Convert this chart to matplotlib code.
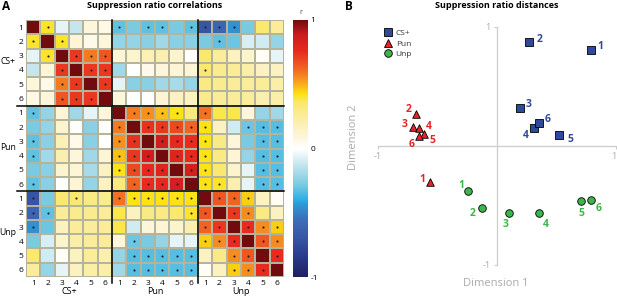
import numpy as np
import matplotlib
matplotlib.use("Agg")
import matplotlib.pyplot as plt
from matplotlib.colors import LinearSegmentedColormap
from matplotlib.lines import Line2D

plt.rcParams['font.family'] = ['Open Sans', 'DejaVu Sans']

# ---------------- data ----------------
groups = ["CS+", "Pun", "Unp"]
items = ["1", "2", "3", "4", "5", "6"]

# lower triangle of the correlation matrix (rows: CS+1..6, Pun1..6, Unp1..6)
corr_lower = [
    [1.0],
    [0.40, 1.0],
    [-0.05, 0.40, 1.0],
    [-0.12, 0.10, 0.72, 1.0],
    [0.08, 0.05, 0.58, 0.72, 1.0],
    [0.06, 0.08, 0.65, 0.72, 0.72, 1.0],
    [-0.32, -0.22, 0.10, -0.20, -0.05, 0.08, 1.0],
    [-0.28, -0.22, 0.12, 0.00, -0.25, 0.00, 0.58, 1.0],
    [-0.32, -0.25, 0.18, 0.05, -0.25, 0.00, 0.54, 0.74, 1.0],
    [-0.32, -0.20, 0.20, 0.08, -0.20, 0.10, 0.47, 0.72, 0.86, 1.0],
    [-0.28, -0.25, 0.12, 0.10, -0.18, 0.15, 0.42, 0.68, 0.76, 0.80, 1.0],
    [-0.32, -0.25, 0.00, 0.10, -0.22, 0.15, 0.32, 0.62, 0.75, 0.76, 0.85, 1.0],
    [-0.70, -0.28, 0.35, 0.35, 0.30, 0.28, 0.60, 0.42, 0.42, 0.42, 0.42, 0.42, 1.0],
    [-0.60, -0.32, 0.25, 0.28, 0.28, 0.25, 0.38, 0.15, 0.30, 0.30, 0.35, 0.40, 0.65, 1.0],
    [-0.45, -0.30, 0.15, 0.25, 0.25, 0.25, 0.38, -0.10, 0.08, 0.10, 0.12, 0.20, 0.62, 0.72, 1.0],
    [-0.28, -0.08, 0.12, 0.22, 0.25, 0.25, 0.08, -0.30, -0.28, -0.22, -0.05, -0.05, 0.45, 0.55, 0.75, 1.0],
    [0.35, -0.10, 0.02, 0.15, 0.25, 0.20, -0.22, -0.33, -0.33, -0.33, -0.33, -0.33, 0.15, 0.30, 0.55, 0.65, 1.0],
    [0.25, -0.22, -0.05, 0.15, 0.22, 0.22, -0.20, -0.33, -0.33, -0.33, -0.33, -0.33, 0.02, 0.15, 0.45, 0.55, 0.75, 1.0],
]

# significant pairs (row, col) in the lower triangle, 0-based indices
signif_pairs = [
    (1, 0), (2, 1), (3, 2), (4, 2), (5, 2), (4, 3), (5, 3), (5, 4),
    (6, 0), (8, 0), (9, 0), (11, 0),
    (7, 6), (8, 6), (9, 6), (10, 6),
    (8, 7), (9, 7), (10, 7), (11, 7),
    (9, 8), (10, 8), (11, 8), (10, 9), (11, 9), (11, 10),
    (12, 0), (13, 0), (14, 0), (13, 1), (12, 3),
    (12, 6), (12, 7), (12, 8), (12, 9), (12, 10), (12, 11),
    (13, 11), (15, 7),
    (16, 7), (16, 8), (16, 9), (16, 10), (16, 11),
    (17, 7), (17, 8), (17, 9), (17, 10), (17, 11),
    (13, 12), (14, 12), (15, 12), (14, 13), (15, 13), (15, 14),
    (16, 14), (17, 14), (16, 15), (17, 15), (17, 16),
]

# MDS coordinates
cs_x = [0.79, 0.27, 0.19, 0.31, 0.52, 0.35]
cs_y = [0.81, 0.87, 0.32, 0.15, 0.09, 0.19]
pun_x = [-0.56, -0.68, -0.71, -0.655, -0.615, -0.655]
pun_y = [-0.30, 0.27, 0.16, 0.15, 0.10, 0.08]
unp_x = [-0.24, -0.13, 0.10, 0.35, 0.71, 0.79]
unp_y = [-0.38, -0.52, -0.56, -0.56, -0.46, -0.45]

# label offsets in pixels (dx right, dy up)
cs_off = [(9, 3), (10, 3), (9, 3), (-8, -7), (12, -4), (9, 4)]
pun_off = [(-8, 2), (-8, 4), (-8, 2), (10, 2), (9, -6), (-7, -8)]
unp_off = [(-7, 6), (-9, -6), (-3, -12), (7, -12), (0, -13), (8, -9)]

# ---------------- build matrix ----------------
n = len(corr_lower)
M = np.zeros((n, n))
for i, row in enumerate(corr_lower):
    for j, v in enumerate(row):
        M[i, j] = v
        M[j, i] = v

cmap = LinearSegmentedColormap.from_list("r", [
    (0.0, "#1d2160"), (0.08, "#2b3a8c"), (0.15, "#3655a5"), (0.22, "#3d6cb8"),
    (0.28, "#2f95d6"), (0.30, "#29aee4"), (0.36, "#79cbe1"), (0.42, "#b3dfeb"),
    (0.47, "#e2f2f6"), (0.50, "#ffffff"), (0.54, "#fdf6dc"), (0.62, "#fbeda0"),
    (0.68, "#fae76a"), (0.71, "#fde313"), (0.77, "#f7931e"), (0.81, "#f26522"),
    (0.88, "#e8291f"), (0.945, "#cc1a1d"), (1.0, "#720b0e")])

fig = plt.figure(figsize=(6.17, 2.96), dpi=100)

# ---------------- panel A ----------------
axA = fig.add_axes([26/617, 1-277/296, 258/617, 257/296])
mesh = axA.pcolormesh(np.arange(n+1), np.arange(n+1), M, cmap=cmap, vmin=-1, vmax=1,
                      edgecolors="#b4b49c", linewidth=0.35)
axA.set_xlim(0, n)
axA.set_ylim(n, 0)
for spine in axA.spines.values():
    spine.set_visible(False)

si = np.array([(r, c) for r, c in signif_pairs] + [(c, r) for r, c in signif_pairs])
axA.scatter(si[:, 1] + 0.5, si[:, 0] + 0.5, s=2.4, color="#222222", linewidths=0, zorder=3)

for b in (6, 12):
    axA.plot([b, b], [0, n + 0.45], color="black", lw=1.1, clip_on=False, zorder=4)
    axA.plot([-0.6, n], [b, b], color="black", lw=1.1, clip_on=False, zorder=4)

ticks = np.arange(n) + 0.5
axA.set_xticks(ticks)
axA.set_xticklabels(items * 3, fontsize=6)
axA.set_yticks(ticks)
axA.set_yticklabels(items * 3, fontsize=6)
axA.tick_params(length=0, pad=2)
for k, g in enumerate(groups):
    axA.text(6*k + 3, n + 1.05, g, ha="center", va="center", fontsize=6.5, clip_on=False)
    axA.text(-0.7, 6*k + 2.9, g, ha="right", va="center", fontsize=6.2, clip_on=False)

cax = fig.add_axes([293/617, 1-277/296, 15/617, 257/296])
cb = fig.colorbar(mesh, cax=cax, ticks=[-1, 0, 1])
cb.ax.set_yticklabels(["-1", "0", "1"], fontsize=6)
cb.ax.tick_params(length=0, pad=2)
cb.outline.set_visible(False)
fig.text(301/617, 1-13/296, "r", ha="center", va="center", fontsize=5.5, color="#555555")

fig.text(155/617, 1-6/296, "Suppression ratio correlations", ha="center", va="center",
         fontsize=6.5, fontweight="bold")
fig.text(2/617, 1-6/296, "A", ha="left", va="center", fontsize=8.5, fontweight="bold")

# ---------------- panel B ----------------
axB = fig.add_axes([378/617, 31/296, 238/617, 238/296])
axB.set_xlim(-1, 1)
axB.set_ylim(-1, 1)
axB.patch.set_alpha(0)
for s in ("top", "right"):
    axB.spines[s].set_visible(False)
gray = "#cccccc"
for s in ("left", "bottom"):
    axB.spines[s].set_position(("data", 0))
    axB.spines[s].set_color(gray)
    axB.spines[s].set_linewidth(0.9)
axB.set_xticks([-1, 1])
axB.set_yticks([-1, 1])
axB.set_xticklabels(["-1", "1"], fontsize=6.5)
axB.set_yticklabels(["-1", "1"], fontsize=6.5)
axB.tick_params(colors=gray, length=2.5, width=0.8, pad=2)
for lbl in axB.get_xticklabels() + axB.get_yticklabels():
    lbl.set_color("#aaaaaa")
axB.get_xticklabels()[1].set_horizontalalignment("right")

blue, red, green = "#2f4a9b", "#e3262b", "#3cb54a"
axB.scatter(cs_x, cs_y, marker="s", s=30, color=blue, edgecolors="black", linewidths=0.6, zorder=3)
axB.scatter(pun_x, pun_y, marker="^", s=30, color=red, edgecolors="black", linewidths=0.6, zorder=3)
axB.scatter(unp_x, unp_y, marker="o", s=30, color=green, edgecolors="black", linewidths=0.6, zorder=3)

px2pt = 0.72
for xs, ys, offs, col in ((cs_x, cs_y, cs_off, blue), (pun_x, pun_y, pun_off, red),
                          (unp_x, unp_y, unp_off, green)):
    for k, (x, y) in enumerate(zip(xs, ys)):
        dx, dy = offs[k]
        axB.annotate(items[k], (x, y), xytext=(dx*px2pt, dy*px2pt), textcoords="offset points",
                     ha="center", va="center", fontsize=7.5, fontweight="bold", color=col,
                     annotation_clip=False)

handles = [Line2D([], [], marker="s", ls="", color=blue, mec="black", mew=0.6, ms=5.5),
           Line2D([], [], marker="^", ls="", color=red, mec="black", mew=0.6, ms=5.5),
           Line2D([], [], marker="o", ls="", color=green, mec="black", mew=0.6, ms=5.5)]
fig.legend(handles, groups, loc="upper left", bbox_to_anchor=(384/617, 1-29/296),
           frameon=False, fontsize=6, handlelength=1.0, handletextpad=0.4,
           labelspacing=0.35, borderpad=0, borderaxespad=0, labelcolor="#333333")

fig.text(496/617, 1-283/296, "Dimension 1", ha="center", va="center", fontsize=8, color="#aaaaaa")
fig.text(353/617, 1-137/296, "Dimension 2", ha="center", va="center", fontsize=8,
         color="#aaaaaa", rotation=90)
fig.text(497/617, 1-6/296, "Suppression ratio distances", ha="center", va="center",
         fontsize=6.5, fontweight="bold")
fig.text(345/617, 1-6/296, "B", ha="left", va="center", fontsize=8.5, fontweight="bold")

fig.savefig("out.png", dpi=100)
